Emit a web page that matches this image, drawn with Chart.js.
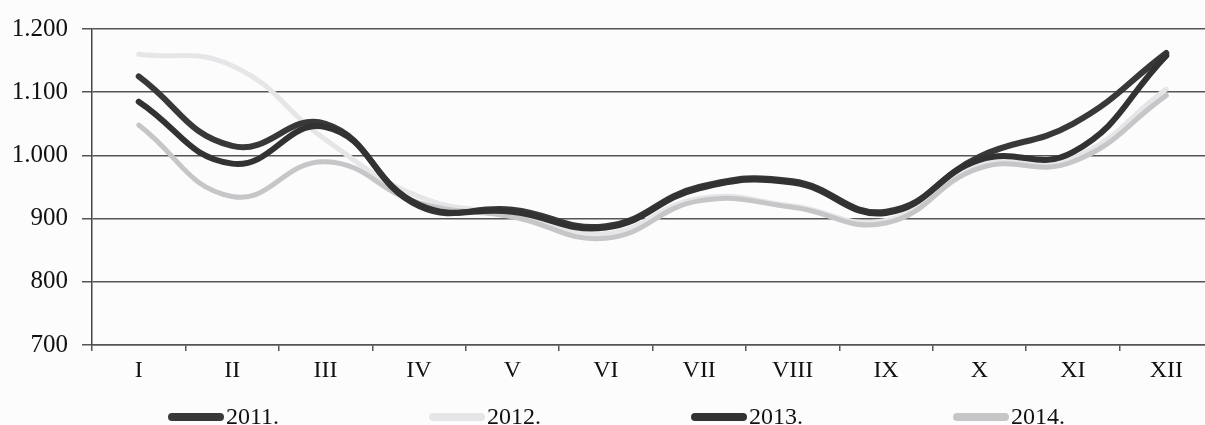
<!DOCTYPE html>
<html>
<head>
<meta charset="utf-8">
<script src="https://cdn.jsdelivr.net/npm/chart.js@4.4.1/dist/chart.umd.min.js"></script>
<style>
  html, body { margin: 0; padding: 0; background: #fcfcfd; overflow: hidden; }
  body { width: 1205px; height: 425px; position: relative; }
  .chart-wrap { position: absolute; left: 0; top: 0; width: 1213px; height: 425px; }
  .legend {
    position: absolute; left: 168px; top: 403px;
    display: flex; gap: 150px;
    font-family: "Liberation Serif", "Times New Roman", serif;
    font-size: 24px; color: #111; white-space: nowrap;
  }
  .legend-item { display: flex; align-items: center; }
  .legend-swatch { display: inline-block; width: 56px; height: 8px; border-radius: 4px; margin-right: 2px; }
</style>
</head>
<body>
<div class="chart-wrap"><canvas id="monthChart"></canvas></div>
<div class="legend" id="legend"></div>
<script>
// months and yearly series
const months = ['I', 'II', 'III', 'IV', 'V', 'VI', 'VII', 'VIII', 'IX', 'X', 'XI', 'XII'];
const years = ['2011.', '2012.', '2013.', '2014.'];
const values2011 = [1125, 1015, 1050, 920, 914, 888, 950, 959, 911, 998, 1050, 1162];
const values2012 = [1160, 1142, 1025, 935, 906, 876, 932, 920, 897, 984, 996, 1105];
const values2013 = [1085, 987, 1045, 922, 911, 886, 948, 957, 909, 993, 1005, 1158];
const values2014 = [1048, 935, 990, 925, 903, 869, 928, 918, 893, 980, 990, 1095];
const yTicks = [700, 800, 900, 1000, 1100, 1200];

document.addEventListener('DOMContentLoaded', function() {
  const ctx = document.getElementById('monthChart').getContext('2d');
  const serif = '"Liberation Serif", "Times New Roman", serif';
  const gridColor = '#555555';

  function series(label, data, color, width, order) {
    return {
      label: label,
      data: data,
      borderColor: color,
      backgroundColor: color,
      borderWidth: width,
      pointRadius: 0,
      tension: 0.45,
      borderCapStyle: 'round',
      borderJoinStyle: 'round',
      order: order
    };
  }

  const chart = new Chart(ctx, {
    type: 'line',
    data: {
      labels: months,
      datasets: [
        series(years[0], values2011, '#383838', 6, 1),
        series(years[1], values2012, '#e6e6e8', 5, 3),
        series(years[2], values2013, '#323232', 6, 0),
        series(years[3], values2014, '#c6c6c8', 5, 2)
      ]
    },
    options: {
      responsive: true,
      maintainAspectRatio: false,
      animation: false,
      layout: { padding: { top: 25, bottom: 40, left: 0, right: 0 } },
      scales: {
        x: {
          offset: true,
          grid: {
            offset: true,
            drawOnChartArea: false,
            drawTicks: true,
            tickLength: 6,
            color: gridColor,
            lineWidth: 1.5
          },
          border: { display: true, color: gridColor, width: 1.5 },
          ticks: {
            color: '#111',
            padding: 5,
            maxRotation: 0,
            font: { family: serif, size: 24 }
          },
          afterFit: function(scale) { scale.height = 40; }
        },
        y: {
          min: 700,
          max: 1200,
          afterBuildTicks: function(scale) {
            scale.ticks = yTicks.map(v => ({ value: v }));
          },
          grid: {
            color: gridColor,
            lineWidth: 1.5,
            drawTicks: true,
            tickLength: 10
          },
          border: { display: true, color: '#444', width: 1.5 },
          ticks: {
            color: '#111',
            padding: 14,
            font: { family: serif, size: 25 },
            callback: function(v) {
              return v >= 1000 ? Math.floor(v / 1000) + '.' + String(v % 1000).padStart(3, '0') : String(v);
            }
          },
          afterFit: function(scale) { scale.width = 92; }
        }
      },
      plugins: {
        legend: { display: false },
        tooltip: { enabled: false }
      }
    }
  });

  // Legend below the axis, built from the datasets
  const legend = document.getElementById('legend');
  chart.data.datasets.forEach(ds => {
    const item = document.createElement('span');
    item.className = 'legend-item';
    const swatch = document.createElement('span');
    swatch.className = 'legend-swatch';
    swatch.style.background = ds.borderColor;
    item.appendChild(swatch);
    item.appendChild(document.createTextNode(ds.label));
    legend.appendChild(item);
  });
});
</script>
</body>
</html>
